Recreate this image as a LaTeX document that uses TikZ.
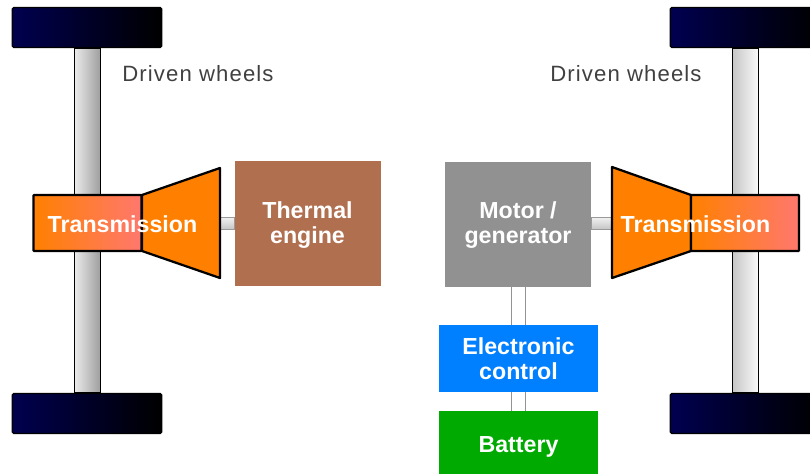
\documentclass[tikz,border=0pt]{standalone}
\usepackage{fontspec}
\setmainfont{Liberation Sans}
\newfontfamily\spaced[LetterSpace=5]{Liberation Sans}
\usetikzlibrary{calc}
\definecolor{wheelblue}{RGB}{0,0,80}
\definecolor{trorange}{RGB}{255,128,0}
\definecolor{trpink}{RGB}{255,120,110}
\definecolor{engcol}{RGB}{176,112,80}
\definecolor{motcol}{RGB}{145,145,145}
\definecolor{ctlcol}{RGB}{0,128,255}
\definecolor{batcol}{RGB}{0,170,0}
\tikzset{
  x=0.75pt,y=-0.75pt,
  wheel/.style={rectangle,draw=black,line width=0.9pt,rounded corners=1pt,minimum width=112pt,minimum height=30pt,inner sep=0pt,left color=wheelblue,right color=black},
  box/.style={rectangle,inner sep=0pt},
  axleL/.style={draw=black,line width=0.7pt,left color=gray!15,right color=gray!75},
  axleR/.style={draw=black,line width=0.7pt,left color=gray!45,right color=gray!5},
  stub/.style={draw=gray!80,line width=0.5pt,top color=gray!10,bottom color=gray!45},
  link/.style={draw=gray!85,line width=1pt},
  gearbox/.style={draw=black,line width=1.7pt,line join=round,fill=trorange},
  case/.style={rectangle,inner sep=0pt,draw=black,line width=1.7pt,rounded corners=0.5pt,left color=trorange,right color=trpink,minimum width=81pt,minimum height=42pt},
  lbl/.style={inner sep=0pt,align=center,text=white,font=\bfseries\fontsize{17.4}{18.75}\selectfont},
  drv/.style={inner sep=0pt,text=black!75,font=\spaced\fontsize{16.6}{18}\selectfont}
}
\begin{document}
\begin{tikzpicture}
\useasboundingbox (0,0) rectangle (810,474);
\begin{scope}
\clip (0,0) rectangle (810,474);
% left side
\node[wheel] (wTL) at (87,27.5) {};
\node[wheel] (wBL) at (87,413.5) {};
\path[axleL] ($(wTL.south)+(-13,0)$) rectangle ($(wBL.north)+(13,0)$);
\node[box,fill=engcol,minimum width=109.5pt,minimum height=94pt] (eng) at (307.5,223.5) {};
\node[lbl] (engT) at ($(eng)+(0,2)$) {Thermal\\engine};
\coordinate (gL) at (220,223);
\path[stub] (gL |- 0,217) rectangle (eng.west |- 0,229);
\path[gearbox] (142,195) -- (220,168) -- (220,278) -- (142,251) -- cycle;
\node[case] (tL) at (87.5,223) {};
\node[lbl] (tLT) at (122.5,224) {Transmission};
\node[drv] (dL) at (198,73.5) {Driven wheels};
% right side
\node[wheel] (wTR) at (745,27.5) {};
\node[wheel] (wBR) at (745,413.5) {};
\path[axleR] ($(wTR.south)+(-13,0)$) rectangle ($(wBR.north)+(13,0)$);
\node[box,fill=motcol,minimum width=109.5pt,minimum height=94pt] (mot) at (518,224.5) {};
\node[lbl] (motT) at ($(mot)+(0,1)$) {Motor /\\generator};
\node[box,fill=ctlcol,minimum width=119.5pt,minimum height=50pt] (ctl) at (518.5,358.5) {};
\node[lbl] (ctlT) at ($(ctl)+(0,0.5)$) {Electronic\\control};
\node[box,fill=batcol,minimum width=119.5pt,minimum height=60pt] (bat) at (518.5,451) {};
\node[lbl] (batT) at (518.5,446.5) {Battery};
\coordinate (gR) at (612,223);
\path[stub] (mot.east |- 0,217) rectangle (gR |- 0,229);
\path[gearbox] (691,195) -- (612,167) -- (612,278) -- (691,251) -- cycle;
\node[case] (tR) at (745,223) {};
\node[lbl] (tRT) at (695.5,224) {Transmission};
\node[drv] (dR) at (626,73.5) {Driven wheels};
\coordinate (la) at ($(ctl.north)+(-7,0)$);
\coordinate (lb) at ($(ctl.north)+(7,0)$);
\coordinate (lc) at ($(ctl.south)+(-7,0)$);
\coordinate (ld) at ($(ctl.south)+(7,0)$);
\draw[link] (la |- mot.south) -- (la);
\draw[link] (lb |- mot.south) -- (lb);
\draw[link] (lc) -- (lc |- bat.north);
\draw[link] (ld) -- (ld |- bat.north);
\end{scope}
\end{tikzpicture}
\end{document}
